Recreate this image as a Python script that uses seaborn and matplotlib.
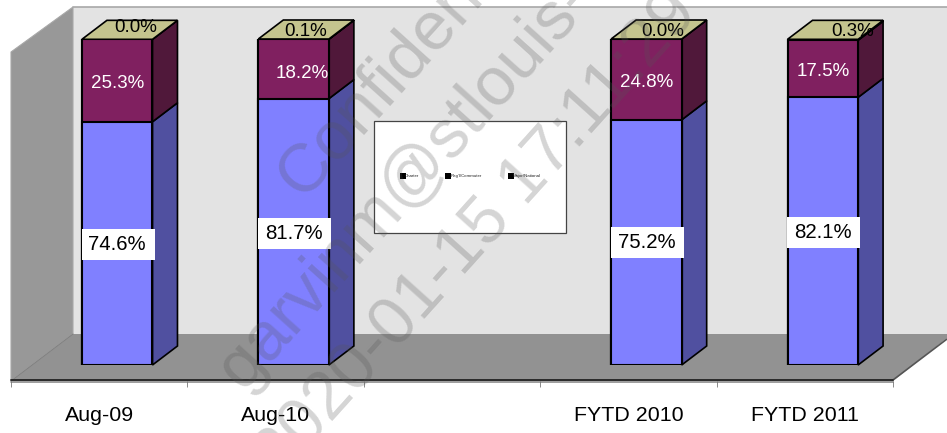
import numpy as np
import pandas as pd
import matplotlib
matplotlib.use("Agg")
import matplotlib.pyplot as plt
from matplotlib.patches import Polygon, Rectangle
import seaborn as sns

# data
categories = ["Aug-09", "Aug-10", "", "FYTD 2010", "FYTD 2011"]
local_vals = [74.6, 81.7, np.nan, 75.2, 82.1]
regional_vals = [25.3, 18.2, np.nan, 24.8, 17.5]
major_vals = [0.0, 0.1, np.nan, 0.0, 0.3]
legend_names = ["Charter", "Reg'l/Commuter", "Major/National"]

# colours: front, side
blue, blue_side = "#8080ff", "#5050a0"
purple, purple_side = "#802060", "#50183a"
olive, olive_side = "#c4c48e", "#50183a"

W, H = 947, 433
sns.set_theme(style="white")
plt.rcParams["font.family"] = ["Liberation Sans", "DejaVu Sans"]

fig = plt.figure(figsize=(W / 100, H / 100), dpi=100)

# walls and floor, in pixels
bg = fig.add_axes([0, 0, 1, 1])
bg.set_xlim(0, W)
bg.set_ylim(H, 0)
bg.axis("off")
bg.add_patch(Polygon([(73, 7), (947, 7), (947, 334), (73, 334)], fc="#e3e3e3", ec="none"))
bg.plot([73, 947], [6.5, 6.5], color="#a8a8a8", lw=1.2)
bg.add_patch(Polygon([(11, 52), (73, 7), (73, 334), (11, 381)], fc="#989898", ec="#a8a8a8", lw=0.8))
bg.add_patch(Polygon([(11, 381), (73, 334), (947, 334), (947, 338), (893, 381)], fc="#929292", ec="none"))
bg.plot([11, 73], [381, 334], color="#808080", lw=0.7)
bg.plot([893, 947], [380, 339], color="#555555", lw=1.2)
bg.plot([11, 893], [379.5, 379.5], color="#222222", lw=1.3)
bg.plot([11, 893], [381.5, 381.5], color="#8c8c8c", lw=1.2)

# legend box
bg.add_patch(Rectangle((374, 121), 192, 112, fc="white", ec="#444444", lw=0.9))
bg.scatter([402.5, 448, 510.5], [176, 176, 176], s=14, marker="s", color="black", linewidths=0)
for xp, name in zip([405, 450.5, 513], legend_names):
    bg.text(xp, 176, name, fontsize=3.2, va="center", color="#222222")

# x axis
ax_x = fig.add_axes([11 / W, (H - 381) / H, 882 / W, 0.0005])
ax_x.patch.set_alpha(0)
ax_x.set_xlim(-0.5, 4.5)
ax_x.set_yticks([])
for s in ax_x.spines.values():
    s.set_visible(False)
ax_x.set_xticks(range(5))
ax_x.set_xticklabels(categories, fontsize=15.4, color="black")
ax_x.set_xticks(np.arange(-0.5, 5), minor=True)
ax_x.tick_params(axis="x", which="major", length=0, pad=18)
ax_x.tick_params(axis="x", which="minor", length=4.5, width=0.6, color="#777777", bottom=True)

# bars
ax = fig.add_axes([29 / W, (H - 365) / H, 882 / W, 326 / H])
ax.patch.set_alpha(0)

df = pd.DataFrame({"cat": categories, "local": local_vals, "regional": regional_vals, "major": major_vals})
df["cum1"] = df["local"]
df["cum2"] = df["cum1"] + df["regional"]
df["cum3"] = df["cum2"] + df["major"]

bar_w = 0.4
for col, c in [("cum3", olive), ("cum2", purple), ("cum1", blue)]:
    sns.barplot(data=df, x="cat", y=col, order=categories, color=c, saturation=1, width=bar_w,
                errorbar=None, edgecolor="black", linewidth=1.5, ax=ax, zorder=3)

ax.set_xlim(-0.5, 4.5)
ax.set_ylim(0, 100)
ax.axis("off")

dx = 25 / 176.4
dy = 19 / 3.26
for i in range(len(categories)):
    if np.isnan(df["cum1"][i]):
        continue
    x1 = i + bar_w / 2
    x0 = i - bar_w / 2
    top = df["cum3"][i]
    levels = [(0, df["cum1"][i], blue_side), (df["cum1"][i], df["cum2"][i], purple_side), (df["cum2"][i], top, olive_side)]
    for y0, y1, c in levels:
        ax.add_patch(Polygon([(x1, y0), (x1 + dx, y0 + dy), (x1 + dx, y1 + dy), (x1, y1)],
                             fc=c, ec="black", lw=1.2, zorder=2, clip_on=False))
    ax.add_patch(Polygon([(x0, top), (x0 + dx, top + dy), (x1 + dx, top + dy), (x1, top)],
                         fc=olive, ec="black", lw=1.2, zorder=2, clip_on=False))

# data labels, offsets in pixels
blue_off = [(0, -1), (0, -2), None, (0, -0.5), (0, -1)]
purple_off = [(0, -3), (9, -5), None, (0.5, -3), (0, -3)]
major_off = [(18, 12), (12, 7), None, (16, 8), (30, 7)]
for i in range(len(categories)):
    if blue_off[i] is None:
        continue
    mid = df["local"][i] / 2
    ax.add_patch(Rectangle((i + 1 / 176.4 - 36.5 / 176.4, mid - 15.5 / 3.26 + blue_off[i][1] / 3.26), 73 / 176.4, 31 / 3.26,
                           fc="white", ec="none", zorder=5))
    ax.annotate(f"{local_vals[i]:.1f}%", (i, mid), xytext=blue_off[i], textcoords="offset pixels",
                ha="center", va="center", fontsize=14.7, color="black", zorder=6)
    ax.annotate(f"{regional_vals[i]:.1f}%", (i, (df["cum1"][i] + df["cum2"][i]) / 2), xytext=purple_off[i],
                textcoords="offset pixels", ha="center", va="center", fontsize=13.5, color="white", zorder=6)
    ax.annotate(f"{major_vals[i]:.1f}%", (i, 100), xytext=major_off[i], textcoords="offset pixels",
                ha="center", va="center", fontsize=13.5, color="black", zorder=6)

# watermark
wm = dict(fontsize=49, color="#555555", alpha=0.25, rotation=48, rotation_mode="anchor", zorder=10)
fig.text(302 / W, 1 - 200 / H, "Confidential", ha="left", va="baseline", **wm)
fig.text(243 / W, 1 - 392 / H, "garvinm@stlouis-fed.org", ha="left", va="baseline", **wm)
fig.text(490 / W, 1 - 247 / H, "2020-01-15 17:11:29", ha="center", va="baseline", **wm)

fig.savefig("out.png", dpi=100)
